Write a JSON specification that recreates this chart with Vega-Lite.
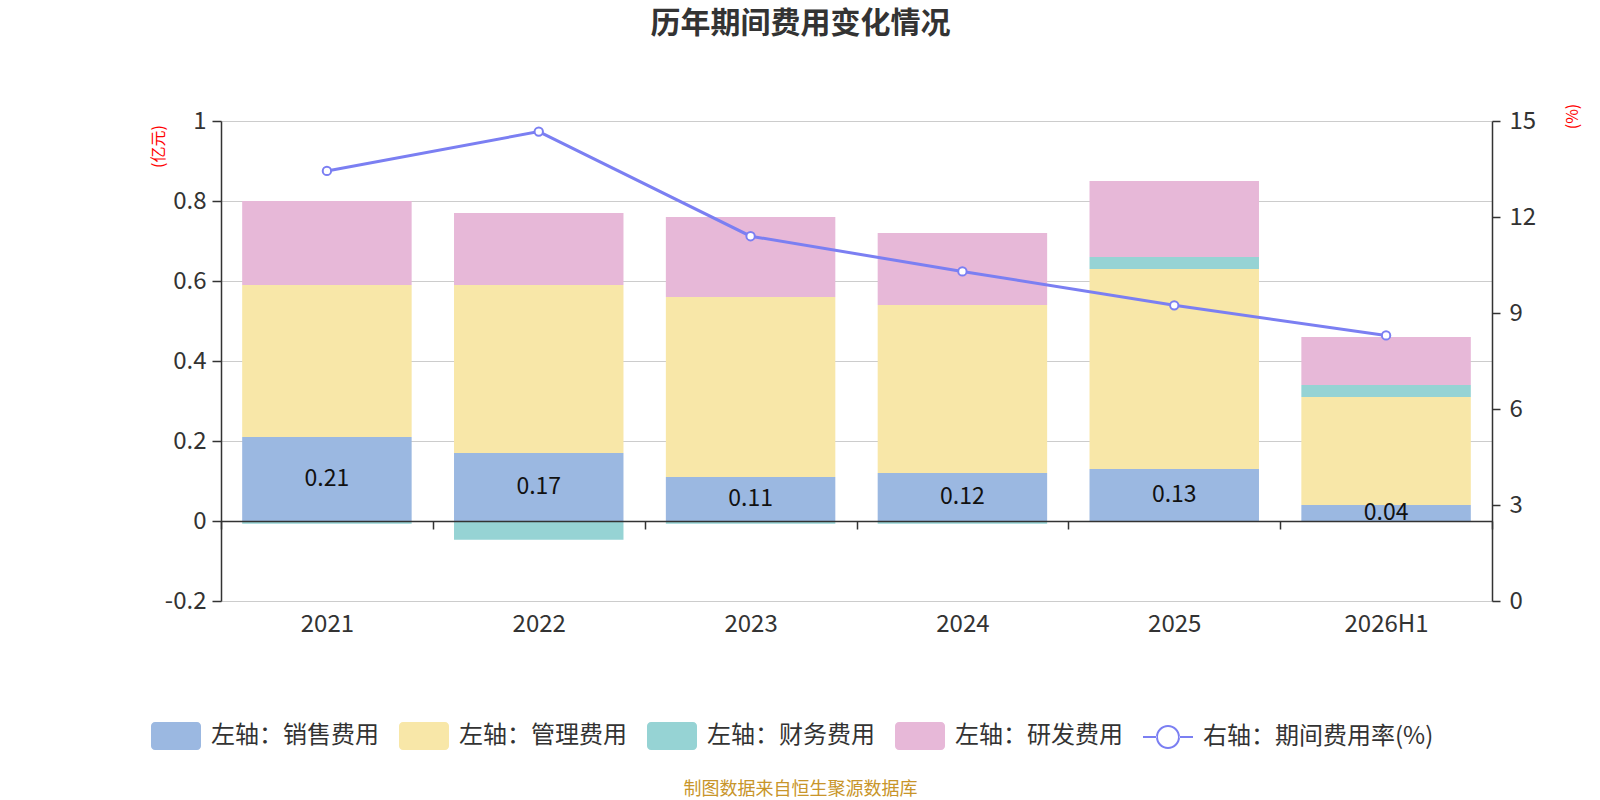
{
  "$schema": "https://vega.github.io/schema/vega-lite/v6.json",
  "autosize": "none",
  "width": 1271,
  "height": 480,
  "padding": {"left": 221, "top": 121, "right": 108, "bottom": 199},
  "background": "white",
  "config": {
    "font": "Noto Sans CJK SC",
    "view": {"stroke": "transparent"}
  },
  "title": {
    "text": "历年期间费用变化情况",
    "frame": "group",
    "anchor": "middle",
    "dx": -56,
    "offset": 64,
    "fontSize": 30,
    "fontWeight": "bold",
    "color": "#333333"
  },
  "datasets": {
    "bars": [
      {"年份": "2021", "项目": "左轴：销售费用", "金额": 0.21},
      {"年份": "2021", "项目": "左轴：管理费用", "金额": 0.38},
      {"年份": "2021", "项目": "左轴：财务费用", "金额": -0.007},
      {"年份": "2021", "项目": "左轴：研发费用", "金额": 0.21},
      {"年份": "2022", "项目": "左轴：销售费用", "金额": 0.17},
      {"年份": "2022", "项目": "左轴：管理费用", "金额": 0.42},
      {"年份": "2022", "项目": "左轴：财务费用", "金额": -0.047},
      {"年份": "2022", "项目": "左轴：研发费用", "金额": 0.18},
      {"年份": "2023", "项目": "左轴：销售费用", "金额": 0.11},
      {"年份": "2023", "项目": "左轴：管理费用", "金额": 0.45},
      {"年份": "2023", "项目": "左轴：财务费用", "金额": -0.007},
      {"年份": "2023", "项目": "左轴：研发费用", "金额": 0.20},
      {"年份": "2024", "项目": "左轴：销售费用", "金额": 0.12},
      {"年份": "2024", "项目": "左轴：管理费用", "金额": 0.42},
      {"年份": "2024", "项目": "左轴：财务费用", "金额": -0.007},
      {"年份": "2024", "项目": "左轴：研发费用", "金额": 0.18},
      {"年份": "2025", "项目": "左轴：销售费用", "金额": 0.13},
      {"年份": "2025", "项目": "左轴：管理费用", "金额": 0.50},
      {"年份": "2025", "项目": "左轴：财务费用", "金额": 0.03},
      {"年份": "2025", "项目": "左轴：研发费用", "金额": 0.19},
      {"年份": "2026H1", "项目": "左轴：销售费用", "金额": 0.04},
      {"年份": "2026H1", "项目": "左轴：管理费用", "金额": 0.27},
      {"年份": "2026H1", "项目": "左轴：财务费用", "金额": 0.03},
      {"年份": "2026H1", "项目": "左轴：研发费用", "金额": 0.12}
    ],
    "rate": [
      {"年份": "2021", "期间费用率": 13.44},
      {"年份": "2022", "期间费用率": 14.67},
      {"年份": "2023", "期间费用率": 11.40},
      {"年份": "2024", "期间费用率": 10.30},
      {"年份": "2025", "期间费用率": 9.24},
      {"年份": "2026H1", "期间费用率": 8.30}
    ]
  },
  "encoding": {
    "x": {
      "field": "年份",
      "type": "nominal",
      "scale": {"paddingInner": 0, "paddingOuter": 0},
      "axis": {
        "title": "制图数据来自恒生聚源数据库",
        "titleX": 579,
        "titleY": 268,
        "titleBaseline": "middle",
        "titleAlign": "center",
        "titleFontSize": 18,
        "titleFontWeight": "normal",
        "titleColor": "#c8952a",
        "offset": -80,
        "zindex": 1,
        "tickBand": "extent",
        "tickSize": 8,
        "tickColor": "#333333",
        "tickWidth": 1.5,
        "domainColor": "#333333",
        "domainWidth": 1.5,
        "labelAngle": 0,
        "labelFontSize": 24,
        "labelColor": "#333333",
        "labelPadding": 83,
        "grid": false
      }
    }
  },
  "layer": [
    {
      "data": {"name": "bars"},
      "transform": [
        {"window": [{"op": "row_number", "as": "序"}], "groupby": ["年份"]}
      ],
      "mark": {"type": "bar", "width": {"band": 0.8}},
      "encoding": {
        "y": {
          "field": "金额",
          "type": "quantitative",
          "stack": "zero",
          "scale": {"domain": [-0.2, 1], "nice": false, "zero": false},
          "axis": {
            "orient": "left",
            "values": [-0.2, 0, 0.2, 0.4, 0.6, 0.8, 1],
            "labelExpr": "toString(datum.value)",
            "title": "(亿元)",
            "titleAngle": 270,
            "titleX": -63,
            "titleY": 25,
            "titleAlign": "center",
            "titleBaseline": "middle",
            "titleFontSize": 16,
            "titleFontWeight": "normal",
            "titleColor": "#ff0000",
            "grid": true,
            "gridColor": "#cccccc",
            "gridWidth": 1.2,
            "domainColor": "#333333",
            "domainWidth": 1.5,
            "tickColor": "#333333",
            "tickWidth": 1.5,
            "tickSize": 9,
            "labelPadding": 6,
            "labelFontSize": 24,
            "labelColor": "#333333"
          }
        },
        "color": {
          "field": "项目",
          "type": "nominal",
          "scale": {
            "domain": ["左轴：销售费用", "左轴：管理费用", "左轴：财务费用", "左轴：研发费用", "右轴：期间费用率(%)"],
            "range": ["#9bb8e1", "#f8e7a8", "#96d3d4", "#e7b8d8", "#7b7ff2"]
          },
          "legend": {
            "orient": "none",
            "legendX": -70,
            "legendY": 590,
            "direction": "horizontal",
            "columns": 5,
            "title": null,
            "padding": 0,
            "symbolSize": 2500,
            "symbolStrokeWidth": 0,
            "labelFontSize": 24,
            "labelLimit": 500,
            "labelColor": "#333333",
            "labelOffset": 10,
            "columnPadding": 20,
            "encode": {
              "symbols": {
                "update": {
                  "shape": {"signal": "datum.value === '右轴：期间费用率(%)' ? 'M-1,-0.04 L-0.46,-0.04 L-0.46,0.04 L-1,0.04 Z M0.46,-0.04 L1,-0.04 L1,0.04 L0.46,0.04 Z M0.48,0 A0.48,0.48 0 1 0 -0.48,0 A0.48,0.48 0 1 0 0.48,0 Z M0.4,0 A0.4,0.4 0 1 1 -0.4,0 A0.4,0.4 0 1 1 0.4,0 Z' : 'M-0.84,-0.56 L0.84,-0.56 A0.16,0.16 0 0 1 1,-0.4 L1,0.4 A0.16,0.16 0 0 1 0.84,0.56 L-0.84,0.56 A0.16,0.16 0 0 1 -1,0.4 L-1,-0.4 A0.16,0.16 0 0 1 -0.84,-0.56 Z'"},
                  "opacity": {"value": 1}
                }
              }
            }
          }
        },
        "order": {"field": "序", "type": "quantitative"}
      }
    },
    {
      "data": {"name": "bars"},
      "transform": [{"filter": "datum['项目'] === '左轴：销售费用'"}],
      "mark": {"type": "text", "fontSize": 23, "color": "#111111", "baseline": "middle"},
      "encoding": {
        "y": {
          "field": "金额",
          "type": "quantitative",
          "stack": null,
          "scale": {"domain": [-0.4, 2], "nice": false, "zero": false},
          "axis": null
        },
        "text": {"field": "金额", "type": "quantitative", "format": ".2f"}
      }
    },
    {
      "data": {"name": "rate"},
      "mark": {
        "type": "line",
        "color": "#7b7ff2",
        "strokeWidth": 3,
        "point": {"filled": false, "fill": "#ffffff", "stroke": "#7b7ff2", "strokeWidth": 2, "size": 70}
      },
      "encoding": {
        "y": {
          "field": "期间费用率",
          "type": "quantitative",
          "scale": {"domain": [0, 15], "nice": false, "zero": false},
          "axis": {
            "orient": "right",
            "values": [0, 3, 6, 9, 12, 15],
            "title": "(%)",
            "titleAngle": 270,
            "titleX": 80,
            "titleY": -5,
            "titleAlign": "center",
            "titleBaseline": "middle",
            "titleFontSize": 16,
            "titleFontWeight": "normal",
            "titleColor": "#ff0000",
            "grid": false,
            "domainColor": "#333333",
            "domainWidth": 1.5,
            "tickColor": "#333333",
            "tickWidth": 1.5,
            "tickSize": 8,
            "labelPadding": 9,
            "labelFontSize": 24,
            "labelColor": "#333333"
          }
        }
      }
    }
  ],
  "resolve": {"scale": {"y": "independent"}}
}
